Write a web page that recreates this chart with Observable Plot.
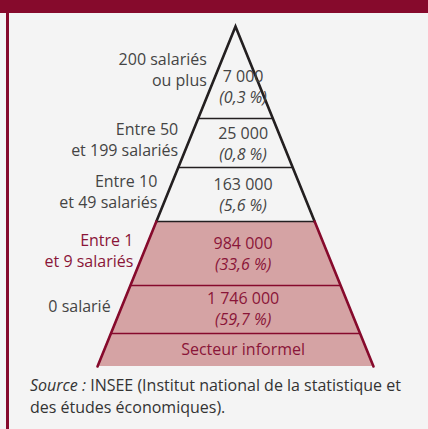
<!DOCTYPE html>
<html>
<head>
<meta charset="utf-8">
<script src="https://cdn.jsdelivr.net/npm/d3@7"></script>
<script src="https://cdn.jsdelivr.net/npm/@observablehq/plot@0.6"></script>
<style>
  html, body { margin: 0; padding: 0; background: #f4f4f4; }
  #frame { position: relative; width: 428px; height: 429px; overflow: hidden; background: #f4f4f4; font-family: "Open Sans", sans-serif; }
  #topband { position: absolute; left: 0; top: 0; width: 428px; height: 13px; background: #860a2c; }
  #leftbar { position: absolute; left: 6px; top: 13px; width: 3px; height: 416px; background: #860a2c; }
  #chart { position: absolute; left: 0; top: 13px; }
  .cap { position: absolute; left: 30px; font-size: 16px; line-height: 18px; color: #333; margin: 0; white-space: nowrap; }
  .cap em { font-style: italic; }
</style>
</head>
<body>
<div id="frame">
  <div id="topband"></div>
  <div id="leftbar"></div>
  <div id="chart"></div>
  <p class="cap" style="top:376px"><em>Source&nbsp;:</em> INSEE (Institut national de la statistique et</p>
  <p class="cap" style="top:398px">des études économiques).</p>
</div>
<script>
// ---- Data ----
const categories = ["200 salariés\nou plus", "Entre 50\net 199 salariés", "Entre 10\net 49 salariés", "Entre 1\net 9 salariés", "0 salarié", "Secteur informel"];
const companies = [7000, 25000, 163000, 984000, 1746000, null];
const shares = [0.3, 0.8, 5.6, 33.6, 59.7, null];
// schematic depth of the band boundaries, from the apex (0) to the base
const depthEdges = [0, 92, 141, 195, 259, 307, 340];

// ---- Helpers ----
const BASE = depthEdges[depthEdges.length - 1];
const half = d => d / BASE;
const loc = d3.formatLocale({decimal: ",", thousands: "\u00a0", grouping: [3], currency: ["", " €"]});
const fmtInt = loc.format(",d");
const fmtPct = loc.format(".1f");

const DARK = "#231f20", RED = "#860a2c", PINK = "#d5a3a4", LIGHT = "#f4f4f4";
const GRAY_TXT = "#444444", RED_TXT = "#8a1538";
const nTop = 3; // bands above the small-firm group

const idx = d3.range(categories.length);
const bands = idx.flatMap(i => [
  {band: i, depth: depthEdges[i], fill: i < nTop ? LIGHT : PINK},
  {band: i, depth: depthEdges[i + 1], fill: i < nTop ? LIGHT : PINK}
]);
// centroid depth of each band (trapezoid / triangle)
const centroid = i => {
  const a = depthEdges[i], b = depthEdges[i + 1];
  return (2 / 3) * (b ** 3 - a ** 3) / (b ** 2 - a ** 2);
};
const mid = i => (depthEdges[i] + depthEdges[i + 1]) / 2;

const innerEdges = depthEdges.slice(1, -1).map((d, k) => ({depth: d, stroke: k < nTop ? DARK : RED}));
const eSplit = depthEdges[nTop];
const outline = [
  {g: "top", x: -half(eSplit), y: eSplit},
  {g: "top", x: 0, y: 0},
  {g: "top", x: half(eSplit), y: eSplit},
  {g: "l", x: -half(eSplit), y: eSplit},
  {g: "l", x: -half(BASE), y: BASE},
  {g: "r", x: half(eSplit), y: eSplit},
  {g: "r", x: half(BASE), y: BASE}
];

const valueRows = idx.filter(i => companies[i] != null);
const infoRows = idx.filter(i => companies[i] == null);
const FONT = 16;

const chart = Plot.plot({
  width: 428,
  height: 358,
  marginTop: 13,
  marginBottom: 5,
  marginLeft: 97,
  marginRight: 55,
  x: {domain: [-1, 1], axis: null},
  y: {domain: [0, BASE], reverse: true, axis: null},
  style: {background: "transparent", fontFamily: "'Open Sans', sans-serif"},
  marks: [
    Plot.areaX(bands, {x1: d => -half(d.depth), x2: d => half(d.depth), y: "depth", z: "band", fill: "fill"}),
    Plot.ruleY(innerEdges, {y: "depth", x1: d => -half(d.depth), x2: d => half(d.depth), stroke: "stroke", strokeWidth: 1.6}),
    Plot.line(outline, {x: "x", y: "y", z: "g", stroke: d => d.g === "top" ? DARK : RED, strokeWidth: 2.6, strokeLinejoin: "miter", strokeMiterlimit: 20}),
    // counts
    Plot.text(valueRows, {x: i => 0.055, y: i => centroid(i), text: i => fmtInt(companies[i]), dy: -11, fontSize: FONT,
      fill: i => i < nTop ? GRAY_TXT : RED_TXT}),
    // shares
    Plot.text(valueRows, {x: i => 0.055, y: i => centroid(i), text: i => `(${fmtPct(shares[i])} %)`, dy: 10, fontSize: FONT, fontStyle: "italic",
      fill: i => i < nTop ? GRAY_TXT : RED_TXT}),
    // single-line bands
    Plot.text(infoRows, {x: i => 0.055, y: i => centroid(i), text: i => categories[i], fontSize: FONT, fill: RED_TXT}),
    // side labels
    Plot.text(valueRows, {x: i => -half(mid(i)), y: i => mid(i), text: i => categories[i], dx: -10, dy: -4, textAnchor: "end", fontSize: FONT, lineHeight: 1.3,
      fill: i => i === nTop ? RED_TXT : GRAY_TXT})
  ]
});
document.getElementById("chart").appendChild(chart);
</script>
</body>
</html>
